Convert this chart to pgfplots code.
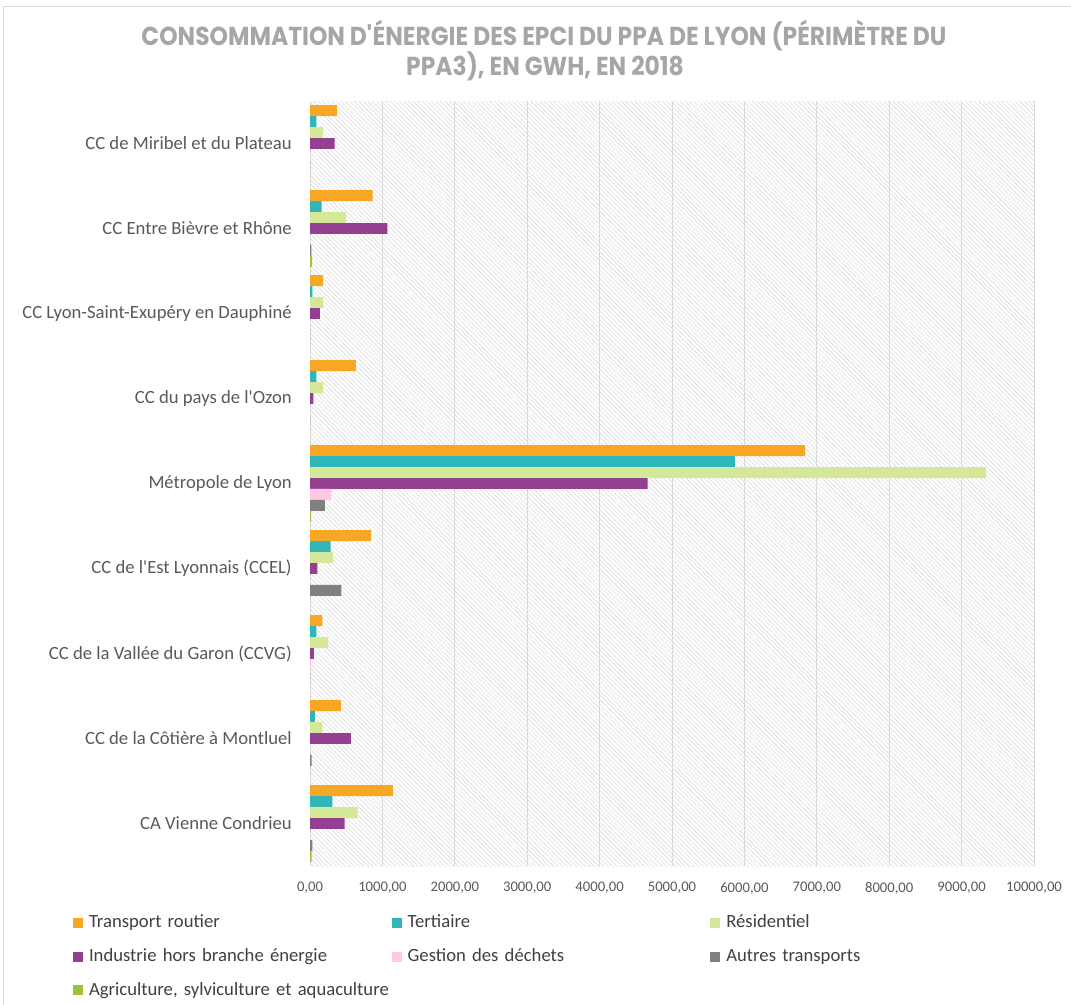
\documentclass[border=0pt]{standalone}
\usepackage{fontspec}
\setmainfont{Carlito}
\newfontfamily\titlefont{Poppins}[FakeStretch=0.9]
\usepackage{pgfplots}
\pgfplotsset{compat=1.18}
\usetikzlibrary{patterns.meta}
\definecolor{cTrans}{HTML}{F8A724}
\definecolor{cTert}{HTML}{2FB5BA}
\definecolor{cRes}{HTML}{D4E89A}
\definecolor{cInd}{HTML}{943F8F}
\definecolor{cGest}{HTML}{FFC8E4}
\definecolor{cAut}{HTML}{808080}
\definecolor{cAgri}{HTML}{9BC33B}
\definecolor{tickgray}{HTML}{595959}
\definecolor{legendgray}{HTML}{404040}
\definecolor{titlegray}{HTML}{A6A6A6}
\begin{document}
\begin{tikzpicture}
\useasboundingbox (0,0) rectangle (803.25pt,-753.75pt);
\draw[black!15, line width=0.75pt] (2.5pt,-5.25pt) -- (2.5pt,-753.75pt);
\draw[black!15, line width=0.75pt] (2.5pt,-5.25pt) -- (803.25pt,-5.25pt);
\node[font=\titlefont\bfseries\fontsize{19.5}{22}\selectfont, text=titlegray, anchor=base, inner sep=0pt] at (408pt,-34.5pt) {CONSOMMATION D\textquotesingle ÉNERGIE DES EPCI DU PPA DE LYON (PÉRIMÈTRE DU};
\node[font=\titlefont\bfseries\fontsize{19.5}{22}\selectfont, text=titlegray, anchor=base, inner sep=0pt] at (408.75pt,-57pt) {PPA3), EN GWH, EN 2018};
\begin{axis}[
  at={(232.5pt,-75.75pt)}, anchor=north west,
  scale only axis, width=543pt, height=573.75pt,
  xbar=0pt, bar width=8.2pt,
  xmin=0, xmax=10000, ymin=-0.5, ymax=8.5, y dir=reverse,
  xtick distance=1000, ytick={0,1,2,3,4,5,6,7,8},
  yticklabels={CC de Miribel et du Plateau, CC Entre Bièvre et Rhône, CC Lyon-Saint-Exupéry en Dauphiné, CC du pays de l\textquotesingle Ozon, Métropole de Lyon, CC de l\textquotesingle Est Lyonnais (CCEL), CC de la Vallée du Garon (CCVG), CC de la Côtière à Montluel, CA Vienne Condrieu},
  major tick length=0pt,
  xtick style={draw=none}, ytick style={draw=none},
  axis line style={draw=none},
  xmajorgrids, major grid style={draw=black!15, line width=0.75pt},
  axis background/.style={pattern={Lines[angle=-45,distance=2.4pt,line width=0.45pt]}, pattern color=black!14},
  scaled x ticks=false,
  xticklabel style={font=\fontsize{11}{13}\selectfont, text=tickgray, yshift=-8.75pt, /pgf/number format/.cd, fixed, fixed zerofill, precision=2, use comma, 1000 sep={}, assume math mode=true},
  yticklabel style={font=\fontsize{14}{16}\selectfont, text=tickgray, inner sep=0pt, xshift=-13.5pt},
  legend columns=3,
  legend cell align=left,
  legend style={draw=none, fill=none, inner sep=0pt, outer sep=0pt, at={(-0.3273,-0.0630)}, anchor=north west, font=\fontsize{14}{16}\selectfont, text=legendgray, row sep=12.3pt, nodes={inner sep=0pt, text height=10pt, text depth=3pt, text width=227pt, align=left}, /tikz/every odd column/.style={column sep=4.5pt}},
  legend image code/.code={\fill[#1] (0pt,-3.75pt) rectangle (7.5pt,3.75pt);},
]
\addplot[fill=cTrans, draw=none, bar shift=24.6pt] coordinates {(373,0) (866,1) (180,2) (635,3) (6837,4) (843,5) (170,6) (428,7) (1146,8)};
\addplot[fill=cTert, draw=none, bar shift=16.4pt] coordinates {(87,0) (162,1) (32,2) (87,3) (5870,4) (286,5) (87,6) (69,7) (308,8)};
\addplot[fill=cRes, draw=none, bar shift=8.2pt] coordinates {(180,0) (497,1) (180,2) (180,3) (9337,4) (318,5) (249,6) (170,7) (659,8)};
\addplot[fill=cInd, draw=none, bar shift=0pt] coordinates {(341,0) (1068,1) (138,2) (46,3) (4664,4) (101,5) (55,6) (566,7) (479,8)};
\addplot[fill=cGest, draw=none, bar shift=-8.2pt] coordinates {(0,0) (0,1) (0,2) (0,3) (294,4) (0,5) (14,6) (0,7) (0,8)};
\addplot[fill=cAut, draw=none, bar shift=-16.4pt] coordinates {(0,0) (18,1) (0,2) (0,3) (207,4) (432,5) (0,6) (23,7) (32,8)};
\addplot[fill=cAgri, draw=none, bar shift=-24.6pt] coordinates {(0,0) (28,1) (0,2) (0,3) (15,4) (0,5) (0,6) (0,7) (23,8)};
\legend{Transport routier, Tertiaire, Résidentiel, Industrie hors branche énergie, Gestion des déchets, Autres transports, {Agriculture, sylviculture et aquaculture}}
\end{axis}
\end{tikzpicture}
\end{document}
